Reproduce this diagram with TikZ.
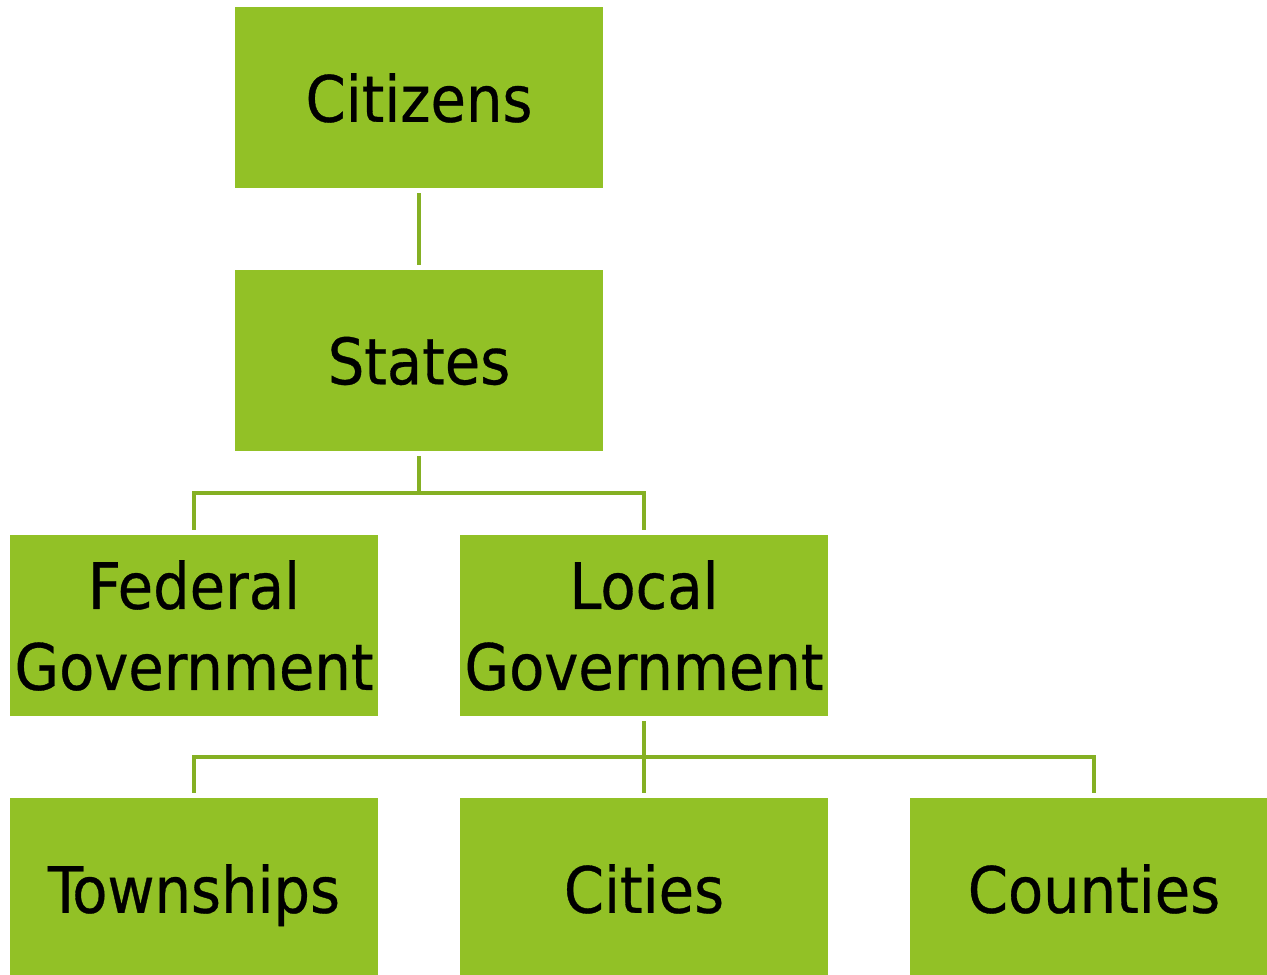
\documentclass[tikz,border=0pt]{standalone}
\usepackage{fontspec}
\setmainfont{DejaVu Sans Condensed}[FakeBold=0.5]
\usepackage{tikz}
\usetikzlibrary{calc,positioning}
\definecolor{boxgreen}{RGB}{146,193,38}
\definecolor{linegreen}{RGB}{133,176,35}
\newdimen\hdim
\newdimen\wdim
\newdimen\odim
\hdim=181pt
\wdim=368pt
\odim=82pt
\tikzstyle{element}=[
  fill=boxgreen,
  draw=none,
  font={\fontsize{64pt}{81pt}\selectfont},
  inner sep=0pt,
  minimum height=\hdim,
  minimum width=\wdim,
  outer sep=0pt,
  rectangle,
  align=center,
  text=black,
]
\tikzstyle{flat}=[
  text depth=0pt,
]
\tikzstyle{arrow}=[
  draw=linegreen,
  line width=4pt,
  shorten <=5pt,
  shorten >=5pt,
]
\tikzset{
  node distance=\wdim+\odim,
}
\begin{document}
\begin{tikzpicture}
      \useasboundingbox (0,0) rectangle (1267pt,-975pt);
      \node (citizens) [element, flat] at (419pt,-97.5pt) {Citizens};
      \node (states) [element, flat, below of=citizens, node distance=263pt] {States};
      \node (federal) [element] at (194pt,-625.5pt) {Federal\\Government};
      \node (local) [element, right of=federal] {Local\\Government};
      \node (townships) [element, flat, below of=federal, node distance=263pt] {Townships};
      \node (cities) [element, flat, right of=townships] {Cities};
      \node (counties) [element, flat, right of=cities] {Counties};
      \coordinate (statessplit) at ($(states.south)+(0,-42pt)$);
      \coordinate (localsplit) at ($(local.south)+(0,-41pt)$);
      \draw [arrow] (citizens) -- (states);
      \draw [arrow, shorten >=0pt] (states.south) -- (statessplit);
      \draw [arrow, shorten <=0pt] (statessplit) -| (federal.north);
      \draw [arrow, shorten <=0pt] (statessplit) -| (local.north);
      \draw [arrow] (local.south) -- (cities.north);
      \draw [arrow, shorten <=0pt] (localsplit) -| (townships.north);
      \draw [arrow, shorten <=0pt] (localsplit) -| (counties.north);
    \end{tikzpicture}
\end{document}
